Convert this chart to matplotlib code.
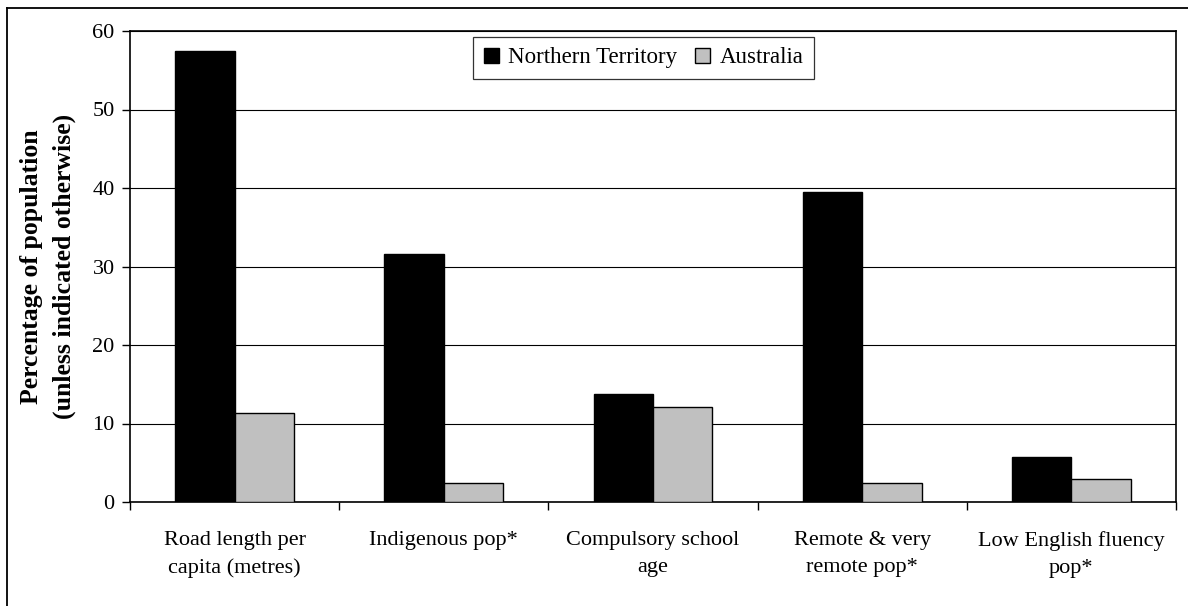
import matplotlib
matplotlib.use("Agg")
import matplotlib.pyplot as plt
from matplotlib.lines import Line2D
import numpy as np

categories = [
    "Road length per\ncapita (metres)",
    "Indigenous pop*",
    "Compulsory school\nage",
    "Remote & very\nremote pop*",
    "Low English fluency\npop*",
]
northern_territory = [57.4, 31.6, 13.7, 39.5, 5.75]
australia = [11.4, 2.45, 12.1, 2.45, 2.95]

plt.rcParams["font.family"] = ["Liberation Serif", "DejaVu Serif"]

W, H = 1188, 606
fig = plt.figure(figsize=(W / 100, H / 100), dpi=100)
ax = fig.add_axes([130 / W, 1 - 502 / H, (1176 - 130) / W, (502 - 31) / H])

x = np.arange(len(categories))
bw = 0.284
ax.bar(x - bw / 2, northern_territory, bw, color="black", edgecolor="black",
       linewidth=1, label="Northern Territory", zorder=3)
ax.bar(x + bw / 2, australia, bw, color="#c0c0c0", edgecolor="black",
       linewidth=1, label="Australia", zorder=3)

ax.set_xlim(-0.5, len(categories) - 0.5)
ax.set_ylim(0, 60)
ax.set_yticks(range(0, 61, 10))
ax.yaxis.grid(True, color="black", linewidth=0.8, zorder=0)

# category dividers as major ticks, names on minor ticks
ax.set_xticks(np.arange(-0.5, len(categories), 1.0))
ax.set_xticklabels([])
ax.set_xticks(x, minor=True)
ax.set_xticklabels(categories, minor=True, fontsize=16, linespacing=1.55)
ax.tick_params(axis="x", which="minor", length=0, pad=21)
ax.tick_params(axis="x", which="major", direction="out", length=6, width=1)
ax.tick_params(axis="y", direction="out", length=6, width=1, labelsize=16, pad=5)

for s in ax.spines.values():
    s.set_linewidth(1.2)
    s.set_color("black")

ax.set_ylabel("Percentage of population\n(unless indicated otherwise)",
              fontsize=18.5, fontweight="bold", linespacing=1.5, labelpad=12)

leg = ax.legend(loc="center", bbox_to_anchor=(643.5 / W, 1 - 57.8 / H),
                bbox_transform=fig.transFigure, ncol=2, fontsize=16.5,
                frameon=True, fancybox=False, edgecolor="black",
                handlelength=0.65, handleheight=0.65, handletextpad=0.4,
                columnspacing=0.8, borderpad=0.45)
leg.get_frame().set_linewidth(0.9)

# chart-area frame (left and top edges)
fig.add_artist(Line2D([7 / W, 7 / W], [0, 1 - 8 / H], transform=fig.transFigure,
                      color="black", linewidth=1.3))
fig.add_artist(Line2D([7 / W, 1], [1 - 8 / H, 1 - 8 / H], transform=fig.transFigure,
                      color="black", linewidth=1.3))

fig.savefig("out.png", dpi=100)
